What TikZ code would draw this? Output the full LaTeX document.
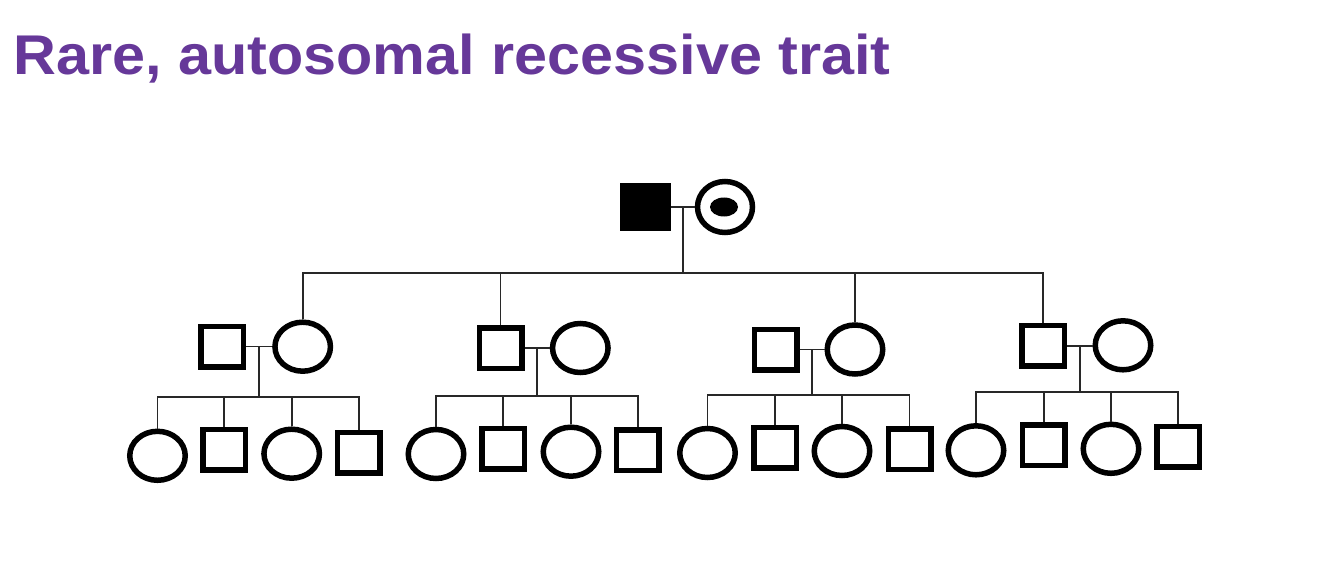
\documentclass[tikz,border=0pt]{standalone}
\usepackage{fontspec}
\setmainfont{Liberation Sans}
\usetikzlibrary{shapes.geometric,calc}
\definecolor{titlepurple}{RGB}{102,56,153}
\definecolor{linegray}{RGB}{40,40,40}
\tikzset{
  sq/.style={rectangle,draw=black,line width=5.5pt,minimum width=42.5pt,minimum height=40.5pt,inner sep=0pt},
  ci/.style={ellipse,draw=black,line width=5.5pt,minimum width=55.5pt,minimum height=49pt,inner sep=0pt},
  ln/.style={draw=linegray,line width=1.7pt},
}
\begin{document}
\begin{tikzpicture}[x=1pt,y=-1pt]
\useasboundingbox (0,0) rectangle (1334,575);
\node[anchor=base west,inner sep=0pt,text=titlepurple,font=\fontsize{56}{60}\selectfont\bfseries] (title) at (13,75) {\scalebox{1.06}[1]{Rare, autosomal recessive trait}};

% generation I
\node[sq,fill=black,minimum width=45pt,minimum height=42pt] (P1) at (645.3,207) {};
\node[ci,minimum width=55pt,minimum height=51pt] (P2) at (725,207) {};
\node[ellipse,fill=black,minimum width=28pt,minimum height=19pt,inner sep=0pt] (P2dot) at (724,207) {};
\coordinate (mI) at ($(P1.east)!0.5!(P2.west)$);
\coordinate (sI) at (685,273);

% generation II
\node[sq] (H1) at (222,346.5) {};
\node[ci] (W1) at (302.7,346.7) {};
\node[sq] (H2) at (500.5,348.3) {};
\node[ci] (W2) at (580.3,348) {};
\node[sq] (H3) at (775.5,349.5) {};
\node[ci] (W3) at (855,349.5) {};
\node[sq] (H4) at (1043,345.7) {};
\node[ci] (W4) at (1123,345.3) {};

% generation III
\node[ci] (A1) at (157.5,455.8) {};
\node[sq] (A2) at (224.3,449.8) {};
\node[ci] (A3) at (291.7,453.7) {};
\node[sq] (A4) at (358.8,452.5) {};
\node[ci] (B1) at (436,454) {};
\node[sq] (B2) at (503.3,448.7) {};
\node[ci] (B3) at (571,451.7) {};
\node[sq] (B4) at (637.8,450.3) {};
\node[ci] (C1) at (707.5,453) {};
\node[sq] (C2) at (775,447.5) {};
\node[ci] (C3) at (842,451) {};
\node[sq] (C4) at (909.5,449) {};
\node[ci] (D1) at (976,450.3) {};
\node[sq] (D2) at (1043.7,445) {};
\node[ci] (D3) at (1111,448.8) {};
\node[sq] (D4) at (1178,446.7) {};

% generation I lines
\draw[ln] (P1.east) -- (P1.east -| P2.west);
\draw[ln] (mI) -- (mI |- sI);
\draw[ln] (W1.north) |- (sI);
\draw[ln] (H4.north) |- (sI);
\draw[ln] (H2.north) -- (H2.north |- sI);
\draw[ln] (W3.north) -- (W3.north |- sI);

% families of generation II
\foreach \h/\w/\a/\b/\c/\d/\y in {H1/W1/A1/A2/A3/A4/397, H2/W2/B1/B2/B3/B4/396, H3/W3/C1/C2/C3/C4/395, H4/W4/D1/D2/D3/D4/392.3}{
  \draw[ln] (\h.east) -- (\h.east -| \w.west);
  \coordinate (m\h) at ($(\h.east)!0.5!(\h.east -| \w.west)$);
  \coordinate (s\h) at (m\h |- 0,\y);
  \draw[ln] (m\h) -- (s\h);
  \draw[ln] (\a.north) |- (s\h);
  \draw[ln] (\d.north) |- (s\h);
  \draw[ln] (\b.north) -- (\b.north |- s\h);
  \draw[ln] (\c.north) -- (\c.north |- s\h);
}
\end{tikzpicture}
\end{document}
